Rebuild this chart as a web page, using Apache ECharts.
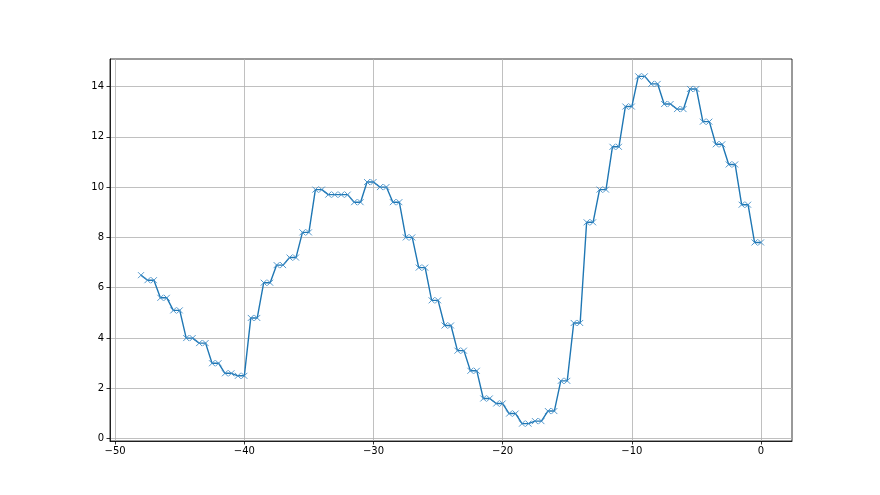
<!DOCTYPE html>
<html>
<head>
<meta charset="utf-8">
<script src="https://cdn.jsdelivr.net/npm/echarts@6/dist/echarts.min.js"></script>
<style>html,body{margin:0;padding:0;background:#fff}#c{width:880px;height:495px}</style>
</head>
<body>
<div id="c"></div>
<script>
const xValues = [-48,
  -47.5,-47, -46.5,-46, -45.5,-45, -44.5,-44, -43.5,-43, -42.5,-42, -41.5,-41, -40.5,-40,
  -39.5,-39, -38.5,-38, -37.5,-37, -36.5,-36, -35.5,-35, -34.5,-34, -33.5,-33, -32.5,-32,
  -31.5,-31, -30.5,-30, -29.5,-29, -28.5,-28, -27.5,-27, -26.5,-26, -25.5,-25, -24.5,-24,
  -23.5,-23, -22.5,-22, -21.5,-21, -20.5,-20, -19.5,-19, -18.5,-18, -17.5,-17, -16.5,-16,
  -15.5,-15, -14.5,-14, -13.5,-13, -12.5,-12, -11.5,-11, -10.5,-10, -9.5,-9, -8.5,-8,
  -7.5,-7, -6.5,-6, -5.5,-5, -4.5,-4, -3.5,-3, -2.5,-2, -1.5,-1, -0.5,0];
const yValues = [6.5,
  6.3,6.3, 5.6,5.6, 5.1,5.1, 4.0,4.0, 3.8,3.8, 3.0,3.0, 2.6,2.6, 2.5,2.5,
  4.8,4.8, 6.2,6.2, 6.9,6.9, 7.2,7.2, 8.2,8.2, 9.9,9.9, 9.7,9.7, 9.7,9.7,
  9.4,9.4, 10.2,10.2, 10.0,10.0, 9.4,9.4, 8.0,8.0, 6.8,6.8, 5.5,5.5, 4.5,4.5,
  3.5,3.5, 2.7,2.7, 1.6,1.6, 1.4,1.4, 1.0,1.0, 0.6,0.6, 0.7,0.7, 1.1,1.1,
  2.3,2.3, 4.6,4.6, 8.6,8.6, 9.9,9.9, 11.6,11.6, 13.2,13.2, 14.4,14.4, 14.1,14.1,
  13.3,13.3, 13.1,13.1, 13.9,13.9, 12.6,12.6, 11.7,11.7, 10.9,10.9, 9.3,9.3, 7.8,7.8];
const xTicks = [-50, -40, -30, -20, -10, 0];
const yTicks = [0, 2, 4, 6, 8, 10, 12, 14];

const fmt = v => (v < 0 ? '\u2212' + Math.abs(v) : String(v));
const chart = echarts.init(document.getElementById('c'), null, {renderer: 'canvas'});
const gridLine = {show: true, lineStyle: {color: '#b0b0b0', width: 0.8}};
const tick = {show: true, inside: false, length: 3.5, lineStyle: {color: '#000', width: 0.8}};
const label = {color: '#000', fontSize: 10, fontFamily: 'DejaVu Sans', formatter: fmt};
chart.setOption({
  animation: false,
  backgroundColor: '#fff',
  grid: {left: 110, right: 88, top: 59, bottom: 54, show: true, borderColor: '#000', borderWidth: 0.8, backgroundColor: 'transparent'},
  xAxis: {
    type: 'value', min: -50.4, max: 2.4,
    axisLine: {show: true, onZero: false, lineStyle: {color: '#000', width: 0.8}},
    axisTick: Object.assign({customValues: xTicks}, tick),
    axisLabel: Object.assign({customValues: xTicks, margin: 5}, label),
    splitLine: gridLine
  },
  yAxis: {
    type: 'value', min: -0.09, max: 15.09,
    axisLine: {show: true, onZero: false, lineStyle: {color: '#000', width: 0.8}},
    axisTick: Object.assign({customValues: yTicks}, tick),
    axisLabel: Object.assign({customValues: yTicks, margin: 6}, label),
    splitLine: gridLine
  },
  series: [{
    type: 'line',
    data: xValues.map((x, i) => [x, yValues[i]]),
    symbol: 'path://M0,0L10,10M10,0L0,10',
    symbolSize: 6,
    showAllSymbol: true,
    lineStyle: {color: '#1f77b4', width: 1.4},
    itemStyle: {color: '#1f77b4', borderColor: '#3f8cc6', borderWidth: 0.9},
    emphasis: {disabled: true}
  }]
});
</script>
</body>
</html>
